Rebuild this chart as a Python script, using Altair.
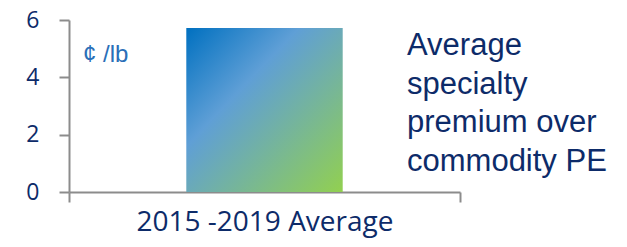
import altair as alt
import pandas as pd

categories = ["2015 -2019 Average"]
values = [5.72]
unit_label = ["¢  /lb"]
note_lines = ["Average", "specialty", "premium over", "commodity PE"]
y_ticks = [0, 2, 4, 6]

df = pd.DataFrame({"period": categories, "premium": values})
unit_df = pd.DataFrame({"t": unit_label})
note_df = pd.DataFrame({"t": ["\n".join(note_lines)]})

navy = "#0d2b69"
gray = "#8c8c8c"

grad = alt.Gradient(
    gradient="linear",
    stops=[
        alt.GradientStop(color="#0070c0", offset=0),
        alt.GradientStop(color="#5f9fd6", offset=0.36),
        alt.GradientStop(color="#92d050", offset=1),
    ],
    x1=0, y1=0, x2=1, y2=1,
)

bars = alt.Chart(df).mark_bar(color=grad, width=alt.RelativeBandSize(0.4)).encode(
    x=alt.X(
        "period:N",
        scale=alt.Scale(paddingInner=0, paddingOuter=0),
        axis=alt.Axis(
            title=None, labelAngle=0, tickBand="extent", tickSize=10,
            tickColor=gray, tickWidth=2, domainColor=gray, domainWidth=2,
            labelFont="Open Sans", labelFontSize=28, labelColor=navy,
            labelPadding=6, labelLimit=0, grid=False,
        ),
    ),
    y=alt.Y(
        "premium:Q",
        scale=alt.Scale(domain=[0, 6]),
        axis=alt.Axis(
            title=None, values=y_ticks, tickSize=10, tickColor=gray,
            tickWidth=2, domainColor=gray, domainWidth=2,
            labelFont="Open Sans", labelFontSize=23, labelColor=navy,
            labelPadding=20, grid=False,
        ),
    ),
)

unit = alt.Chart(unit_df).mark_text(
    align="left", baseline="alphabetic", fontSize=24,
    font="Liberation Sans", color="#2a6fb8",
).encode(x=alt.value(14), y=alt.value(42), text="t:N")

note = alt.Chart(note_df).mark_text(
    align="left", baseline="alphabetic", fontSize=31, lineBreak="\n",
    lineHeight=38.5, font="Liberation Sans", color=navy,
).encode(x=alt.value(338), y=alt.value(35), text="t:N")

chart = alt.layer(bars, unit, note).properties(
    width=391, height=172,
    autosize=alt.AutoSizeParams(type="none"),
    padding={"left": 61, "top": 12, "right": 150, "bottom": 47},
).configure_view(stroke=None)

chart.save("out.html", embed_options={"renderer": "svg", "actions": False})
